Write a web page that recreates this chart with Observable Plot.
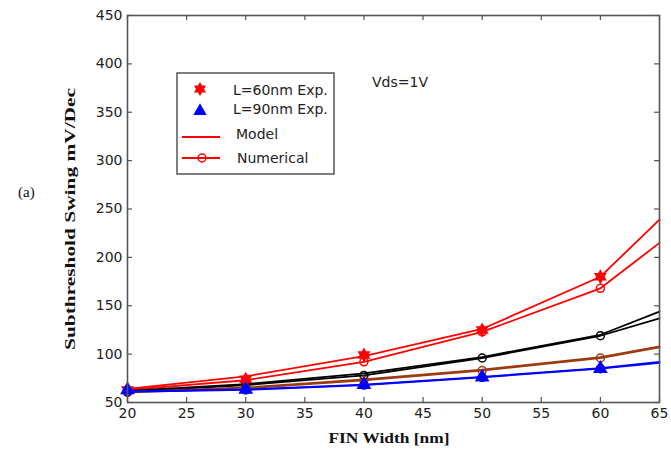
<!DOCTYPE html>
<html>
<head>
<meta charset="utf-8">
<script src="https://cdn.jsdelivr.net/npm/d3@7"></script>
<script src="https://cdn.jsdelivr.net/npm/@observablehq/plot@0.6"></script>
<style>
  body { margin: 0; background: #fff; }
  #chart { position: relative; width: 671px; height: 449px; }
</style>
</head>
<body>
<div id="chart"></div>
<script>
// ---- data ----
const finWidth = [20, 30, 40, 50, 60, 65];
const red60Model = [64, 77, 98, 126, 180, 239];
const red60Numerical = [63, 73, 92, 123, 168, 215];
const black70Model = [62, 69, 80, 97, 120, 144];
const black70Numerical = [61, 68, 78, 96, 119, 137];
const brown80Model = [61, 65.5, 74, 84, 97, 108];
const brown80Numerical = [60.5, 64.5, 73, 83, 96, 107];
const blue90Model = [61.5, 63.5, 68.5, 76.5, 85.5, 92];
const blue90Numerical = [61, 63, 68, 76, 85, 91];

const expWidth = [20, 30, 40, 50, 60];
const red60Exp = [63, 74, 99, 125, 180];
const blue90Exp = [63, 63.5, 68.5, 76, 85];

const xTicks = [20, 25, 30, 35, 40, 45, 50, 55, 60, 65];
const yTicks = [50, 100, 150, 200, 250, 300, 350, 400, 450];

const legendLabels = ["L=60nm Exp.", "L=90nm Exp.", "Model", "Numerical"];

// ---- layout ----
const W = 671, H = 449;
const mL = 127, mR = 12, mT = 15, mB = 47;
const plotW = W - mL - mR, plotH = H - mT - mB;
const axisColor = "#555";

const series = [
  {name: "red-model", color: "#ff0000", kind: "model", values: red60Model},
  {name: "red-num", color: "#ff0000", kind: "num", values: red60Numerical},
  {name: "black-model", color: "#000000", kind: "model", values: black70Model},
  {name: "black-num", color: "#000000", kind: "num", values: black70Numerical},
  {name: "brown-model", color: "#9c3a12", kind: "model", values: brown80Model},
  {name: "brown-num", color: "#9c3a12", kind: "num", values: brown80Numerical},
  {name: "blue-model", color: "#0000ff", kind: "model", values: blue90Model},
  {name: "blue-num", color: "#0000ff", kind: "num", values: blue90Numerical}
];
const rows = series.flatMap(s => finWidth.map((x, i) => ({x, y: s.values[i], series: s.name, color: s.color, kind: s.kind})));
const numRows = rows.filter(d => d.kind === "num" && expWidth.includes(d.x));
const redExpRows = expWidth.map((x, i) => ({x, y: red60Exp[i]}));
const blueExpRows = expWidth.map((x, i) => ({x, y: blue90Exp[i]}));

const hexagram = {
  draw(ctx, size) {
    const R = Math.sqrt(size / Math.PI) * 1.15;
    const r = R / Math.sqrt(3);
    for (let i = 0; i < 12; i++) {
      const a = Math.PI / 6 * i - Math.PI / 2;
      const rad = i % 2 ? r : R;
      const px = rad * Math.cos(a), py = rad * Math.sin(a);
      if (i) ctx.lineTo(px, py); else ctx.moveTo(px, py);
    }
    ctx.closePath();
  }
};

const svg = Plot.plot({
  width: W, height: H,
  marginLeft: mL, marginRight: mR, marginTop: mT, marginBottom: mB,
  style: {fontFamily: "DejaVu Sans, sans-serif", fontSize: "14px", background: "#fff", overflow: "visible"},
  x: {domain: [20, 65]},
  y: {domain: [50, 450]},
  color: {type: "identity"},
  marks: [
    Plot.axisY({ticks: yTicks, tickSize: 0, tickPadding: 5, label: null, fontSize: 14, fill: "#222"}),
    Plot.axisX({ticks: xTicks, tickSize: 0, tickPadding: 6, label: null, fontSize: 14, fill: "#222"}),
    Plot.tickY(yTicks, {y: d => d, stroke: axisColor, strokeWidth: 1.2, insetRight: plotW - 5}),
    Plot.tickY(yTicks, {y: d => d, stroke: axisColor, strokeWidth: 1.2, insetLeft: plotW - 5}),
    Plot.tickX(xTicks, {x: d => d, stroke: axisColor, strokeWidth: 1.2, insetTop: plotH - 5}),
    Plot.tickX(xTicks, {x: d => d, stroke: axisColor, strokeWidth: 1.2, insetBottom: plotH - 5}),
    Plot.line(rows, {x: "x", y: "y", z: "series", stroke: "color", strokeWidth: 1.8}),
    Plot.dot(numRows, {x: "x", y: "y", stroke: "color", fill: "none", r: 4, strokeWidth: 1.5}),
    Plot.dot(redExpRows, {x: "x", y: "y", symbol: hexagram, fill: "#ff0000", r: 6.5}),
    Plot.dot(blueExpRows, {x: "x", y: "y", symbol: "triangle", fill: "#0000ff", r: 5.5}),
    Plot.frame({stroke: axisColor, strokeWidth: 1.6})
  ]
});
document.getElementById("chart").appendChild(svg);

// ---- annotations: axis titles, panel label, legend ----
const s = d3.select(svg);
s.append("text")
  .attr("transform", "translate(75,219) rotate(-90)")
  .attr("text-anchor", "middle")
  .attr("font-family", "Liberation Serif, Times New Roman, serif")
  .attr("font-weight", "bold").attr("font-size", 15)
  .attr("textLength", 262).attr("lengthAdjust", "spacingAndGlyphs")
  .attr("fill", "#111")
  .text("Subthreshold Swing mV/Dec");
s.append("text")
  .attr("x", 389).attr("y", 443)
  .attr("text-anchor", "middle")
  .attr("font-family", "Liberation Serif, Times New Roman, serif")
  .attr("font-weight", "bold").attr("font-size", 15)
  .attr("textLength", 121).attr("lengthAdjust", "spacingAndGlyphs")
  .attr("fill", "#111")
  .text("FIN Width [nm]");
s.append("text")
  .attr("x", 18).attr("y", 197)
  .attr("text-anchor", "start")
  .attr("font-family", "Liberation Serif, Times New Roman, serif")
  .attr("font-size", 15).attr("fill", "#111")
  .text("(a)");
s.append("text")
  .attr("x", 372).attr("y", 87)
  .attr("text-anchor", "start")
  .attr("font-family", "DejaVu Sans, sans-serif")
  .attr("font-size", 14).attr("fill", "#222")
  .text("Vds=1V");

const lg = s.append("g");
lg.append("rect").attr("x", 177).attr("y", 73).attr("width", 157).attr("height", 101)
  .attr("fill", "#fff").attr("stroke", axisColor).attr("stroke-width", 1.5);
lg.append("path").attr("transform", "translate(200,89)")
  .attr("d", d3.symbol(hexagram, Math.PI * 36)()).attr("fill", "#ff0000");
lg.append("path").attr("transform", "translate(200,111)")
  .attr("d", d3.symbol(d3.symbolTriangle, Math.PI * 25)()).attr("fill", "#0000ff");
lg.append("line").attr("x1", 182).attr("x2", 220).attr("y1", 137).attr("y2", 137)
  .attr("stroke", "#ff0000").attr("stroke-width", 1.8);
lg.append("line").attr("x1", 182).attr("x2", 220).attr("y1", 158).attr("y2", 158)
  .attr("stroke", "#ff0000").attr("stroke-width", 1.8);
lg.append("circle").attr("cx", 202).attr("cy", 158).attr("r", 4)
  .attr("fill", "none").attr("stroke", "#ff0000").attr("stroke-width", 1.5);
const lgText = [[233, 95], [233, 114], [236, 139], [237, 163]];
lgText.forEach(([x, y], i) => {
  lg.append("text").attr("x", x).attr("y", y)
    .attr("text-anchor", "start")
    .attr("font-family", "DejaVu Sans, sans-serif").attr("font-size", 14).attr("fill", "#222")
    .text(legendLabels[i]);
});
</script>
</body>
</html>
